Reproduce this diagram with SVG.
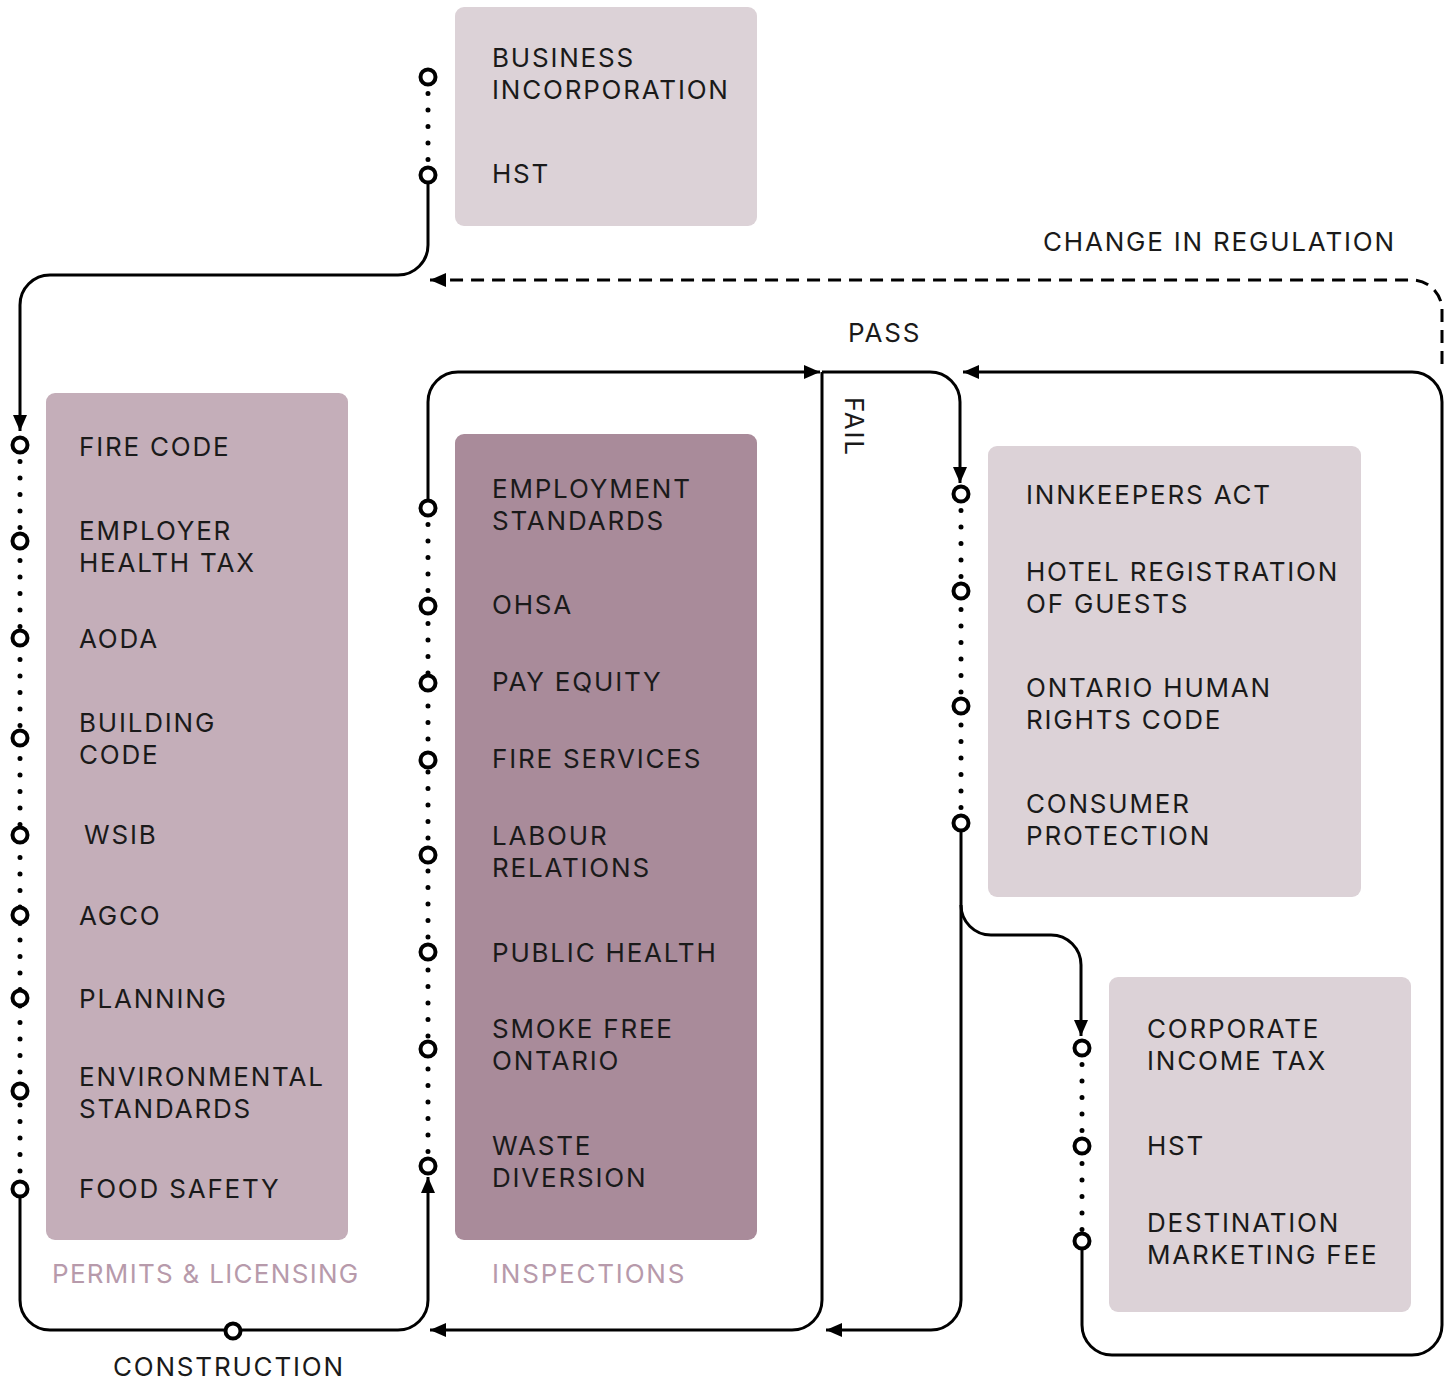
<svg xmlns="http://www.w3.org/2000/svg" width="1448" height="1381" viewBox="0 0 1448 1381">
<style>
.t{font-family:Inter,"Liberation Sans",sans-serif;font-size:26px;fill:#1a1a1a;letter-spacing:1.8px}
.lbl{font-family:Inter,"Liberation Sans",sans-serif;font-size:26px;fill:#b79aab;letter-spacing:1.8px}
.light{fill:#dcd2d7}
.mid{fill:#c4aeb9}
.dark{fill:#a98b9a}
.ln{fill:none;stroke:#000;stroke-width:3}
.dash{fill:none;stroke:#000;stroke-width:3;stroke-dasharray:13 8}
.dots{fill:none;stroke:#000;stroke-width:5;stroke-linecap:round;stroke-dasharray:0 16.5}
.c{fill:#fff;stroke:#000;stroke-width:4}
</style>
<defs>
<marker id="ah" markerUnits="userSpaceOnUse" markerWidth="16" markerHeight="14" viewBox="0 0 16 14" refX="16" refY="7" orient="auto">
<path d="M0,0 L16,7 L0,14 z" fill="#000"/>
</marker>
</defs>

<g id="node-top">
<rect class="light" x="455" y="7" width="302" height="219" rx="9"/>
<text class="t" x="492" y="67">BUSINESS</text>
<text class="t" x="492" y="99">INCORPORATION</text>
<text class="t" x="492" y="183">HST</text>
</g>

<g id="node-permits">
<rect class="mid" x="46" y="393" width="302" height="847" rx="9"/>
<text class="t" x="79" y="456">FIRE CODE</text>
<text class="t" x="79" y="540">EMPLOYER</text>
<text class="t" x="79" y="572">HEALTH TAX</text>
<text class="t" x="79" y="648">AODA</text>
<text class="t" x="79" y="732">BUILDING</text>
<text class="t" x="79" y="764">CODE</text>
<text class="t" x="84" y="844">WSIB</text>
<text class="t" x="79" y="925">AGCO</text>
<text class="t" x="79" y="1008">PLANNING</text>
<text class="t" x="79" y="1086">ENVIRONMENTAL</text>
<text class="t" x="79" y="1118">STANDARDS</text>
<text class="t" x="79" y="1198">FOOD SAFETY</text>
<text class="lbl" x="52" y="1283" style="letter-spacing:1.3px">PERMITS &amp; LICENSING</text>
</g>

<g id="node-inspections">
<rect class="dark" x="455" y="434" width="302" height="806" rx="9"/>
<text class="t" x="492" y="498">EMPLOYMENT</text>
<text class="t" x="492" y="530">STANDARDS</text>
<text class="t" x="492" y="614">OHSA</text>
<text class="t" x="492" y="691">PAY EQUITY</text>
<text class="t" x="492" y="768">FIRE SERVICES</text>
<text class="t" x="492" y="845">LABOUR</text>
<text class="t" x="492" y="877">RELATIONS</text>
<text class="t" x="492" y="962">PUBLIC HEALTH</text>
<text class="t" x="492" y="1038">SMOKE FREE</text>
<text class="t" x="492" y="1070">ONTARIO</text>
<text class="t" x="492" y="1155">WASTE</text>
<text class="t" x="492" y="1187">DIVERSION</text>
<text class="lbl" x="492" y="1283">INSPECTIONS</text>
</g>

<g id="node-operations">
<rect class="light" x="988" y="446" width="373" height="451" rx="9"/>
<text class="t" x="1026" y="504">INNKEEPERS ACT</text>
<text class="t" x="1026" y="581">HOTEL REGISTRATION</text>
<text class="t" x="1026" y="613">OF GUESTS</text>
<text class="t" x="1026" y="697">ONTARIO HUMAN</text>
<text class="t" x="1026" y="729">RIGHTS CODE</text>
<text class="t" x="1026" y="813">CONSUMER</text>
<text class="t" x="1026" y="845">PROTECTION</text>
</g>

<g id="node-taxes">
<rect class="light" x="1109" y="977" width="302" height="335" rx="9"/>
<text class="t" x="1147" y="1038">CORPORATE</text>
<text class="t" x="1147" y="1070">INCOME TAX</text>
<text class="t" x="1147" y="1155">HST</text>
<text class="t" x="1147" y="1232">DESTINATION</text>
<text class="t" x="1147" y="1264">MARKETING FEE</text>
</g>

<g id="connectors">
<path class="dots" d="M428,77 V175"/>
<path class="dots" d="M20,445 V1189"/>
<path class="dots" d="M428,508 V1166"/>
<path class="dots" d="M961,494 V823"/>
<path class="dots" d="M1082,1048 V1241"/>

<path class="ln" d="M428,175 V245 A30,30 0 0 1 398,275 H50 A30,30 0 0 0 20,305 V431" marker-end="url(#ah)"/>
<path class="dash" d="M1442,364 V310 A30,30 0 0 0 1412,280 H430" marker-end="url(#ah)"/>
<path class="ln" d="M20,1189 V1300 A30,30 0 0 0 50,1330 H398 A30,30 0 0 0 428,1300 V1177" marker-end="url(#ah)"/>
<path class="ln" d="M428,508 V402 A30,30 0 0 1 458,372 H820" marker-end="url(#ah)"/>
<path class="ln" d="M822,372 H930 A30,30 0 0 1 960,402 V483" marker-end="url(#ah)"/>
<path class="ln" d="M822,372 V1300 A30,30 0 0 1 792,1330 H430" marker-end="url(#ah)"/>
<path class="ln" d="M961,823 V1300 A30,30 0 0 1 931,1330 H826" marker-end="url(#ah)"/>
<path class="ln" d="M961,905 A30,30 0 0 0 991,935 H1051 A30,30 0 0 1 1081,965 V1036" marker-end="url(#ah)"/>
<path class="ln" d="M1082,1241 V1325 A30,30 0 0 0 1112,1355 H1412 A30,30 0 0 0 1442,1325 V402 A30,30 0 0 0 1412,372 H963" marker-end="url(#ah)"/>

<circle class="c" cx="428" cy="77" r="7.5"/>
<circle class="c" cx="428" cy="175" r="7.5"/>

<circle class="c" cx="20" cy="445" r="7.5"/>
<circle class="c" cx="20" cy="541" r="7.5"/>
<circle class="c" cx="20" cy="638" r="7.5"/>
<circle class="c" cx="20" cy="738" r="7.5"/>
<circle class="c" cx="20" cy="835" r="7.5"/>
<circle class="c" cx="20" cy="915" r="7.5"/>
<circle class="c" cx="20" cy="998" r="7.5"/>
<circle class="c" cx="20" cy="1091" r="7.5"/>
<circle class="c" cx="20" cy="1189" r="7.5"/>

<circle class="c" cx="428" cy="508" r="7.5"/>
<circle class="c" cx="428" cy="606" r="7.5"/>
<circle class="c" cx="428" cy="683" r="7.5"/>
<circle class="c" cx="428" cy="760" r="7.5"/>
<circle class="c" cx="428" cy="855" r="7.5"/>
<circle class="c" cx="428" cy="952" r="7.5"/>
<circle class="c" cx="428" cy="1049" r="7.5"/>
<circle class="c" cx="428" cy="1166" r="7.5"/>

<circle class="c" cx="961" cy="494" r="7.5"/>
<circle class="c" cx="961" cy="591" r="7.5"/>
<circle class="c" cx="961" cy="706" r="7.5"/>
<circle class="c" cx="961" cy="823" r="7.5"/>

<circle class="c" cx="1082" cy="1048" r="7.5"/>
<circle class="c" cx="1082" cy="1146" r="7.5"/>
<circle class="c" cx="1082" cy="1241" r="7.5"/>

<circle class="c" cx="233" cy="1331" r="7.5"/>

<text class="t" x="1043" y="251">CHANGE IN REGULATION</text>
<text class="t" x="848" y="342">PASS</text>
<text class="t" transform="translate(845,397) rotate(90)">FAIL</text>
<text class="t" x="113" y="1376">CONSTRUCTION</text>
</g>
</svg>
